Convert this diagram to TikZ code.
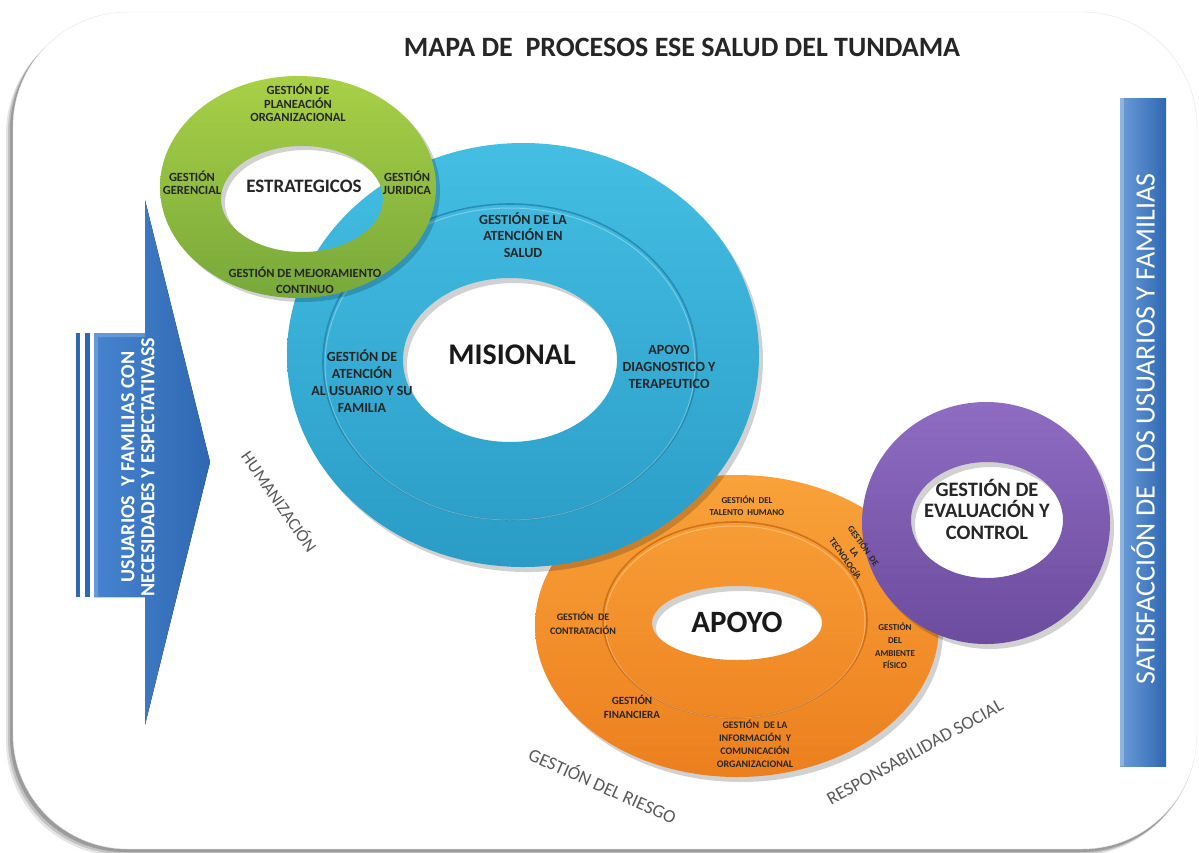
\documentclass[tikz,border=0pt]{standalone}
\usepackage{fontspec}
\setmainfont{Carlito}
\begin{document}
\begin{tikzpicture}[x=1pt,y=-1pt,
  glbl/.style={font=\bfseries\fontsize{12.5}{13.5}\selectfont, align=center, text=black!85, inner sep=0pt},
  lbl/.style={font=\bfseries\fontsize{14}{16.8}\selectfont, align=center, text=black!85, inner sep=0pt},
  slbl/.style={font=\bfseries\fontsize{10}{13}\selectfont, align=center, text=black!85, inner sep=0pt},
  big/.style={font=\bfseries\fontsize{30}{34}\selectfont, text=black!90, inner sep=0pt},
  side/.style={font=\fontsize{17.5}{20}\selectfont, text=black!65, inner sep=0pt},
  ringshadow/.style={fill=black, opacity=.18, even odd rule}
]
\definecolor{gr1}{HTML}{A9D046}\definecolor{gr2}{HTML}{77A83A}
\definecolor{bl1}{HTML}{44BEE3}\definecolor{bl2}{HTML}{2A9CC6}\definecolor{blline}{HTML}{1D7EA3}
\definecolor{or1}{HTML}{F9A23A}\definecolor{or2}{HTML}{EC7F1E}\definecolor{orline}{HTML}{C0620E}
\definecolor{pu1}{HTML}{8E6CC2}\definecolor{pu2}{HTML}{6C4C9E}
\definecolor{ar1}{HTML}{4683CF}\definecolor{ar2}{HTML}{2F68B2}
\useasboundingbox (0,0) rectangle (1199,852);
\fill[white] (0,0) rectangle (1199,852);
% frame with shadow
\foreach \d/\o in {7/.10,5/.15,3/.2}{
  \fill[black, opacity=\o, rounded corners=115pt] (13-\d,12+\d) rectangle (1197-\d+2,849+\d);
}
\fill[white, rounded corners=115pt] (13,12) rectangle (1197,849);
\draw[black!10, rounded corners=115pt] (13,12) rectangle (1197,849);

% title
\node[font=\bfseries\fontsize{28}{32}\selectfont, text=black!85] (title) at (682,47) {MAPA DE\ \ PROCESOS ESE SALUD DEL TUNDAMA};

% left arrow
\fill[ar2] (76,333) rectangle (80,597);
\fill[ar2] (85,333) rectangle (90,597);
\fill[left color=ar1, right color=ar2] (94,333) -- (145,333) -- (145,200) -- (210,462) -- (145,725) -- (145,597) -- (94,597) -- cycle;
\fill[ar1!70!white, opacity=.6] (94,333) -- (145,333) -- (145,337) -- (98,337) -- (98,597) -- (94,597) -- cycle;
\node[font=\bfseries\fontsize{20}{20}\selectfont, text=white, align=center, rotate=90] (users) at (138,467) {USUARIOS\ \ Y FAMILIAS CON\\NECESIDADES Y ESPECTATIVASS};

% right bar
\fill[left color=ar1!80!white, right color=ar2] (1120,98) rectangle (1166,766);
\fill[white, opacity=.25] (1120,98) rectangle (1124,766);
\node[font=\fontsize{28}{30}\selectfont, text=white, rotate=90] (satis) at (1143,429) {SATISFACCIÓN DE\ \ LOS USUARIOS Y FAMILIAS};

% orange ring (apoyo)
\fill[ringshadow] (741,631) ellipse [x radius=202pt, y radius=151pt] (741,628) ellipse [x radius=85pt, y radius=37pt];
\path[even odd rule, top color=or1, bottom color=or2] (737,626) ellipse [x radius=202pt, y radius=151pt] (737,623) ellipse [x radius=85pt, y radius=37pt];
\draw[orline, line width=1.6pt, opacity=.7] (735,620) ellipse [x radius=132pt, y radius=98pt];
\draw[white, line width=1pt, opacity=.3] (735,622) ellipse [x radius=130pt, y radius=96pt];

% purple ring
\fill[ringshadow] (990,528) ellipse [x radius=124pt, y radius=121pt] (991,525) ellipse [x radius=76pt, y radius=58pt];
\path[even odd rule, top color=pu1, bottom color=pu2] (986,523) ellipse [x radius=124pt, y radius=121pt] (987,520) ellipse [x radius=76pt, y radius=58pt];

% blue ring (misional)
\fill[ringshadow] (527,360) ellipse [x radius=236pt, y radius=212pt] (514,365) ellipse [x radius=107pt, y radius=82pt];
\path[even odd rule, top color=bl1, bottom color=bl2] (523,355) ellipse [x radius=236pt, y radius=212pt] (510,360) ellipse [x radius=107pt, y radius=82pt];
\draw[blline, line width=1.6pt, opacity=.7] (510,362) ellipse [x radius=187pt, y radius=158pt];
\draw[white, line width=1pt, opacity=.3] (510,364) ellipse [x radius=185pt, y radius=156pt];

% green ring (estrategicos)
\fill[ringshadow] (302,191) ellipse [x radius=138pt, y radius=111pt] (306,203) ellipse [x radius=81pt, y radius=53pt];
\path[even odd rule, top color=gr1, bottom color=gr2] (298,187) ellipse [x radius=138pt, y radius=111pt] (302,199) ellipse [x radius=81pt, y radius=53pt];

% green labels
\node[glbl] (plan) at (298,103) {GESTIÓN DE\\PLANEACIÓN\\ORGANIZACIONAL};
\node[glbl] (ger) at (192,183) {GESTIÓN\\GERENCIAL};
\node[glbl] (jur) at (407,183) {GESTIÓN\\JURIDICA};
\node[glbl, font=\bfseries\fontsize{12.5}{16}\selectfont] (mej) at (305,280) {GESTIÓN DE MEJORAMIENTO\\CONTINUO};
\node[font=\bfseries\fontsize{19}{22}\selectfont, text=black!85, inner sep=0pt] (est) at (304,186) {ESTRATEGICOS};

% blue labels
\node[lbl] (aten) at (523,235) {GESTIÓN DE LA\\ATENCIÓN EN\\SALUD};
\node[big] (mis) at (512,355) {MISIONAL};
\node[lbl] (usu) at (362,381) {GESTIÓN DE\\ATENCIÓN\\AL USUARIO Y SU\\FAMILIA};
\node[lbl] (apd) at (669,367) {APOYO\\DIAGNOSTICO Y\\TERAPEUTICO};

% orange labels
\node[big, font=\bfseries\fontsize{31}{34}\selectfont] (apoyo) at (737,622) {APOYO};
\node[slbl, font=\bfseries\fontsize{9}{12}\selectfont] (tal) at (747,506) {GESTIÓN\ \ DEL\\TALENTO\ \ HUMANO};
\node[slbl, font=\bfseries\fontsize{9}{11}\selectfont, rotate=-55] (tec) at (855,552) {GESTIÓN\ \ DE\\LA\\TECNOLOGÍA};
\node[slbl, font=\bfseries\fontsize{10}{14}\selectfont] (con) at (583,623) {GESTIÓN\ \ DE\\CONTRATACIÓN};
\node[slbl, font=\bfseries\fontsize{9}{12.7}\selectfont] (amb) at (895,646) {GESTIÓN\\DEL\\AMBIENTE\\FÍSICO};
\node[slbl, font=\bfseries\fontsize{11}{14}\selectfont] (fin) at (632,707) {GESTIÓN\\FINANCIERA};
\node[slbl] (inf) at (755,744) {GESTIÓN\ \ DE LA\\INFORMACIÓN\ \ Y\\COMUNICACIÓN\\ORGANIZACIONAL};

% purple label
\node[font=\bfseries\fontsize{20.5}{21.5}\selectfont, align=center, text=black!85, inner sep=0pt] (eval) at (987,509) {GESTIÓN DE\\EVALUACIÓN Y\\CONTROL};

% outer labels
\node[side, rotate=-55] (hum) at (280,501) {HUMANIZACIÓN};
\node[side, font=\fontsize{18.5}{20}\selectfont, rotate=-24] (ries) at (603,785) {GESTIÓN DEL RIESGO};
\node[side, font=\fontsize{18.5}{20}\selectfont, rotate=29] (resp) at (915,752) {RESPONSABILIDAD SOCIAL};
\end{tikzpicture}
\end{document}
